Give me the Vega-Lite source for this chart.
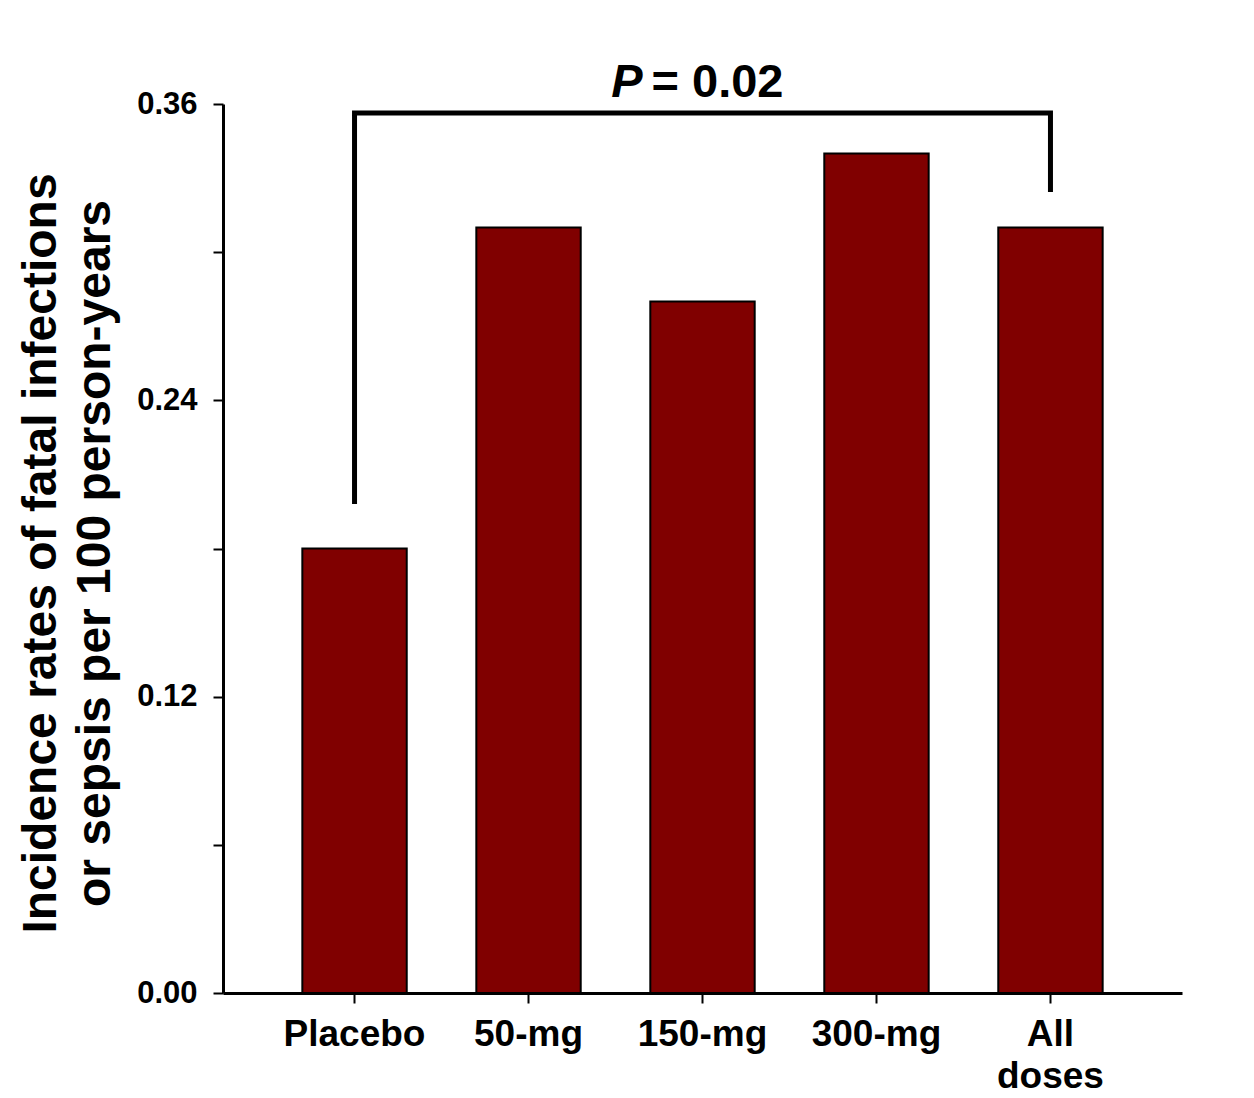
{
  "$schema": "https://vega.github.io/schema/vega-lite/v6.json",
  "width": 959,
  "height": 889,
  "autosize": {"type": "none"},
  "padding": {"left": 223, "top": 104, "right": 72, "bottom": 105},
  "background": "white",
  "config": {
    "view": {"stroke": null},
    "font": "Liberation Sans",
    "axis": {"grid": false}
  },
  "datasets": {
    "bars": [
      {"group": "Placebo", "rate": 0.18},
      {"group": "50-mg", "rate": 0.31},
      {"group": "150-mg", "rate": 0.28},
      {"group": "300-mg", "rate": 0.34},
      {"group": "All doses", "rate": 0.31}
    ],
    "bracket": [
      {"group": "Placebo", "rate": 0.198, "order": 1},
      {"group": "Placebo", "rate": 0.3564, "order": 2},
      {"group": "All doses", "rate": 0.3564, "order": 3},
      {"group": "All doses", "rate": 0.3244, "order": 4}
    ],
    "label": [
      {"group": "150-mg", "rate": 0.3628, "p": "P", "rest": "= 0.02"}
    ]
  },
  "encoding": {
    "x": {
      "field": "group",
      "type": "nominal",
      "scale": {
        "domain": ["Placebo", "50-mg", "150-mg", "300-mg", "All doses"],
        "paddingInner": 0.4,
        "paddingOuter": 0.456
      },
      "axis": {
        "title": null,
        "labelAngle": 0,
        "labelFontSize": 37,
        "labelFontWeight": "bold",
        "labelColor": "black",
        "labelPadding": 13,
        "labelLineHeight": 42,
        "labelExpr": "datum.value == 'All doses' ? ['All', 'doses'] : datum.value",
        "tickSize": 10,
        "tickWidth": 2,
        "tickColor": "black",
        "domainColor": "black",
        "domainWidth": 3
      }
    },
    "y": {
      "field": "rate",
      "type": "quantitative",
      "scale": {"domain": [0, 0.36], "nice": false, "zero": true},
      "axis": {
        "values": [0, 0.06, 0.12, 0.18, 0.24, 0.3, 0.36],
        "labelExpr": "round(datum.value * 100) % 12 == 0 ? format(datum.value, '.2f') : ''",
        "labelFontSize": 31,
        "labelFontWeight": "bold",
        "labelColor": "black",
        "labelPadding": 16,
        "tickSize": 10,
        "tickWidth": 2,
        "tickColor": "black",
        "domainColor": "black",
        "domainWidth": 3,
        "title": ["Incidence rates of fatal infections", "or sepsis per 100 person-years"],
        "titleFontSize": 48,
        "titleFontWeight": "bold",
        "titleColor": "black",
        "titleLineHeight": 54,
        "titleAngle": -90,
        "titleAlign": "center",
        "titleBaseline": "alphabetic",
        "titleX": -168,
        "titleY": 449
      }
    }
  },
  "layer": [
    {
      "data": {"name": "bars"},
      "mark": {"type": "bar", "fill": "#800000", "stroke": "black", "strokeWidth": 2}
    },
    {
      "data": {"name": "bracket"},
      "mark": {"type": "line", "stroke": "black", "strokeWidth": 5, "strokeJoin": "miter", "strokeCap": "butt"},
      "encoding": {
        "order": {"field": "order", "type": "quantitative"}
      }
    },
    {
      "data": {"name": "label"},
      "mark": {"type": "text", "fontSize": 47, "fontWeight": "bold", "fontStyle": "italic", "align": "right", "baseline": "alphabetic", "dx": -60, "color": "black"},
      "encoding": {
        "text": {"field": "p"}
      }
    },
    {
      "data": {"name": "label"},
      "mark": {"type": "text", "fontSize": 47, "fontWeight": "bold", "align": "left", "baseline": "alphabetic", "dx": -51, "color": "black"},
      "encoding": {
        "text": {"field": "rest"}
      }
    }
  ]
}
